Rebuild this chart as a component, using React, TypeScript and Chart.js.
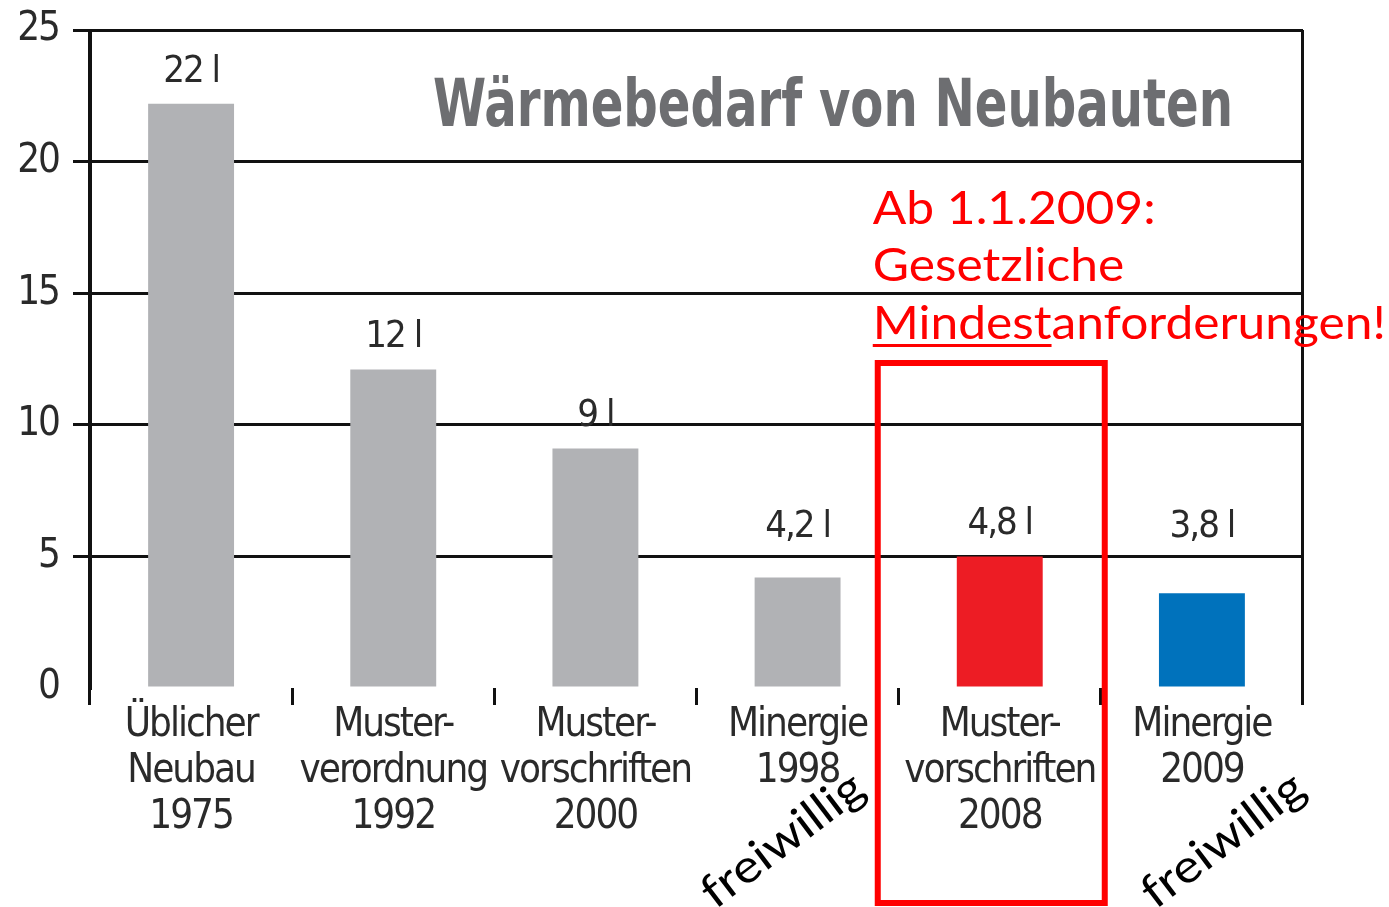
import React, { useEffect, useRef } from "react";
import { Chart, registerables } from "chart.js";

Chart.register(...registerables);

// ---- data ----
const categories: string[][] = [
  ["Üblicher", "Neubau", "1975"],
  ["Muster-", "verordnung", "1992"],
  ["Muster-", "vorschriften", "2000"],
  ["Minergie", "1998"],
  ["Muster-", "vorschriften", "2008"],
  ["Minergie", "2009"],
];
const values: number[] = [22.2, 12.1, 9.1, 4.2, 5.0, 3.6];
const valueLabels: string[] = ["22 l", "12 l", "9 l", "4,2 l", "4,8 l", "3,8 l"];
const barColors: string[] = ["#B1B2B5", "#B1B2B5", "#B1B2B5", "#B1B2B5", "#ED1C24", "#0072BC"];
const yMin = 0;
const yMax = 25;
const yStep = 5;
const titleText = "Wärmebedarf von Neubauten";
const noteLines: string[] = ["Ab 1.1.2009:", "Gesetzliche", "Mindestanforderungen!"];
const noteUnderlined = "Mindest";
const voluntaryText = "freiwillig";
const voluntaryIndices: number[] = [3, 5];
const highlightIndex = 4;

const NARROW = "'DejaVu Sans Condensed', 'Liberation Sans Narrow', 'Liberation Sans', sans-serif";
const ROUND = "Lato, 'Noto Sans', sans-serif";

function fitText(ctx: CanvasRenderingContext2D, text: string, x: number, y: number, width: number, rot = 0) {
  const w = ctx.measureText(text).width;
  const s = width / w;
  ctx.save();
  ctx.translate(x, y);
  if (rot) ctx.rotate(rot);
  ctx.scale(s, 1);
  ctx.fillText(text, 0, 0);
  ctx.restore();
  return s;
}

const annotPlugin = {
  id: "annot",
  beforeDraw(chart: any) {
    (chart.ctx as any).letterSpacing = "-2px";
  },
  afterDatasetsDraw(chart: any) {
    const ctx: CanvasRenderingContext2D = chart.ctx;
    const meta = chart.getDatasetMeta(0);
    const ys = chart.scales.y;
    ctx.save();
    ctx.font = `38px ${NARROW}`;
    ctx.fillStyle = "#2a2a2a";
    ctx.textAlign = "center";
    ctx.textBaseline = "middle";
    meta.data.forEach((bar: any, i: number) => {
      const ly = Math.min(bar.y - 32, ys.getPixelForValue(6.1));
      ctx.fillText(valueLabels[i], bar.x, ly);
    });
    ctx.restore();
  },
  afterDraw(chart: any) {
    const ctx: CanvasRenderingContext2D = chart.ctx;
    const xs = chart.scales.x;
    ctx.save();
    (ctx as any).letterSpacing = "0px";
    // title
    ctx.font = `bold 66px ${NARROW}`;
    ctx.fillStyle = "#6D6E71";
    ctx.textAlign = "left";
    ctx.textBaseline = "alphabetic";
    fitText(ctx, titleText, 433, 126, 800);

    // red note
    const hx = xs.getPixelForValue(highlightIndex);
    const noteX = hx - 127;
    ctx.font = `46px ${ROUND}`;
    ctx.fillStyle = "#FF0000";
    const s = 513 / ctx.measureText(noteLines[2]).width;
    const baselines = [224, 281, 339];
    noteLines.forEach((t, i) => {
      ctx.save();
      ctx.translate(noteX, baselines[i]);
      ctx.scale(s, 1);
      ctx.fillText(t, 0, 0);
      ctx.restore();
    });
    const uw = ctx.measureText(noteUnderlined).width * s;
    ctx.fillRect(noteX, 344, uw, 3);

    // red box
    ctx.strokeStyle = "#FF0000";
    ctx.lineWidth = 6;
    ctx.strokeRect(hx - 122, 363, 227, 540);

    // freiwillig
    ctx.font = `46px ${ROUND}`;
    ctx.fillStyle = "#000";
    ctx.textAlign = "center";
    ctx.textBaseline = "middle";
    const offs = [-15, 21];
    voluntaryIndices.forEach((idx, k) => {
      const cx = xs.getPixelForValue(idx) + offs[k];
      fitText(ctx, voluntaryText, cx, 840, 192, -0.65);
    });
    ctx.restore();
  },
};

export default function App() {
  const ref = useRef<HTMLCanvasElement | null>(null);
  useEffect(() => {
    if (!ref.current) return;
    const chart = new Chart(ref.current, {
      type: "bar",
      data: {
        labels: categories,
        datasets: [
          {
            data: values,
            backgroundColor: barColors,
            borderWidth: 0,
            barPercentage: 0.85,
            categoryPercentage: 0.5,
          },
        ],
      },
      options: {
        animation: false,
        responsive: true,
        maintainAspectRatio: false,
        devicePixelRatio: 1,
        layout: { padding: { left: 0, right: 86, top: 30, bottom: 0 } },
        plugins: { legend: { display: false }, tooltip: { enabled: false }, title: { display: false } },
        scales: {
          x: {
            offset: true,
            border: { display: false },
            grid: {
              offset: true,
              lineWidth: 3,
              color: (c: any) => (c.index === 0 || c.index === undefined ? "#111" : "rgba(0,0,0,0)"),
              tickColor: "#111",
              tickLength: 17,
              drawOnChartArea: true,
            },
            ticks: {
              autoSkip: false,
              maxRotation: 0,
              minRotation: 0,
              padding: -2,
              color: "#2a2a2a",
              font: { family: NARROW, size: 40, lineHeight: 1.15 },
            },
            afterFit: (s: any) => {
              s.height = 219;
            },
          },
          y: {
            min: yMin,
            max: yMax,
            border: { display: true, color: "#111", width: 3 },
            grid: {
              lineWidth: 3,
              color: (c: any) => (c.tick && c.tick.value === 0 ? "rgba(0,0,0,0)" : "#111"),
              tickColor: (c: any) => (c.tick && c.tick.value === 0 ? "rgba(0,0,0,0)" : "#111"),
              tickLength: 17,
            },
            ticks: {
              stepSize: yStep,
              padding: 14,
              color: "#2a2a2a",
              font: { family: NARROW, size: 40, lineHeight: 0.5 },
            },
            afterFit: (s: any) => {
              s.width = 90;
            },
          },
        },
      },
      plugins: [annotPlugin],
    });
    return () => chart.destroy();
  }, []);
  return (
    <div style={{ position: "absolute", left: 0, top: 0, width: 1389, height: 907, background: "#fff" }}>
      <canvas ref={ref} />
    </div>
  );
}
